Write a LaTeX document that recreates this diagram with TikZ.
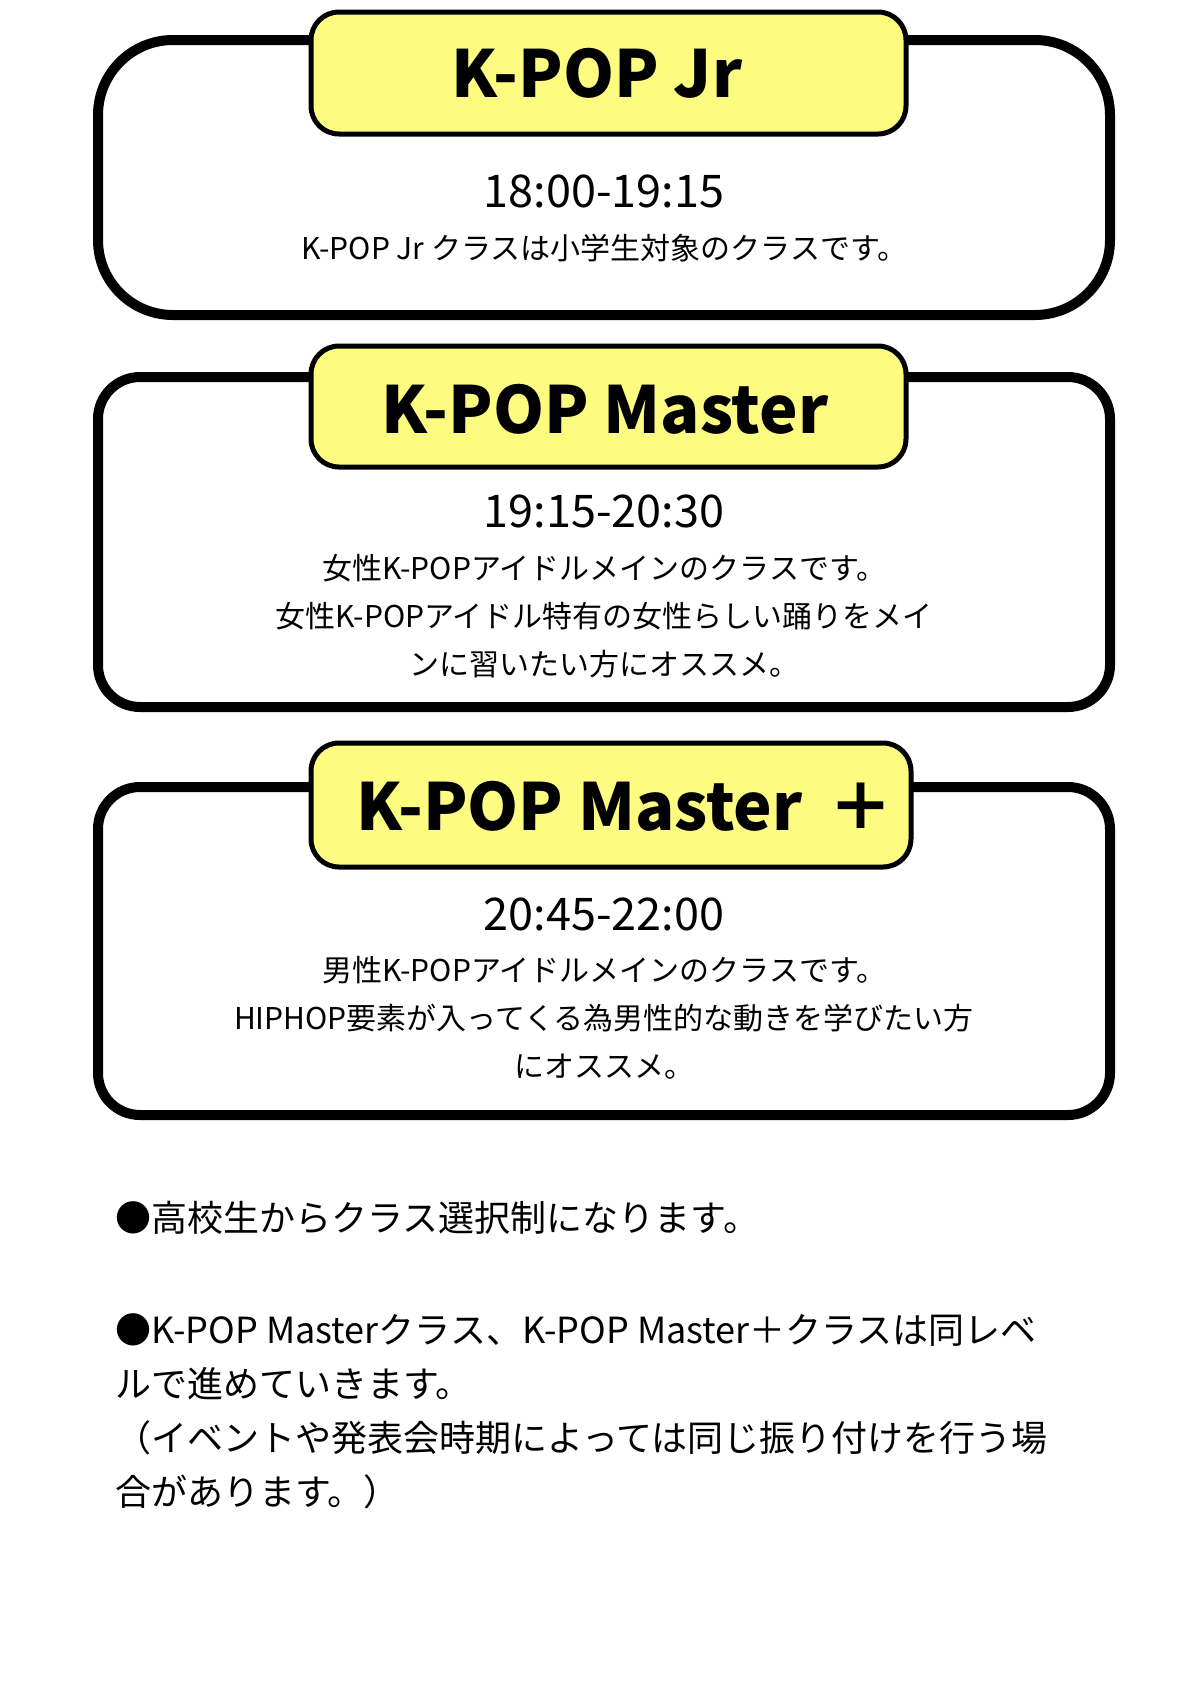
\documentclass[tikz,border=0pt]{standalone}
\usepackage{fontspec}
\setmainfont{Noto Sans CJK JP}
\definecolor{tabyellow}{RGB}{253,251,128}

\begin{document}
\begin{tikzpicture}[x=0.5pt,y=-0.5pt,
  classbox/.style={draw,line width=5pt,fill=white,minimum width=506pt},
  classtab/.style={draw,line width=2.5pt,fill=tabyellow,rounded corners=14pt},
  classtitle/.style={anchor=base,inner sep=0pt,font=\fontsize{32.5}{38}\selectfont\bfseries},
  classtime/.style={anchor=base,inner sep=0pt,font=\fontsize{22.5}{28}\selectfont},
  classinfo/.style={anchor=base,inner sep=0pt,font=\fontsize{15}{24}\selectfont},
  noteline/.style={anchor=base west,inner sep=0pt,font=\fontsize{18}{27}\selectfont}]
  \path[use as bounding box] (0,0) rectangle (1190,1683);

  % class boxes
  \node[classbox,rounded corners=37.5pt,minimum height=137.5pt] (jrbox) at (604,177.5) {};
  \node[classbox,rounded corners=21pt,minimum height=165pt] (masterbox) at (604,542) {};
  \node[classbox,rounded corners=21pt,minimum height=164pt] (plusbox) at (604,951) {};

  % tabs
  \node[classtab,minimum width=297.5pt,minimum height=61pt] (jrtab) at (608.5,73) {};
  \node[classtab,minimum width=297.5pt,minimum height=60.5pt] (mastertab) at (608.5,406.5) {};
  \node[classtab,minimum width=300pt,minimum height=62pt] (plustab) at (611,805) {};

  \node[classtitle] (jrtitle) at (597,97) {K-POP Jr};
  \node[classtitle] (mastertitle) at (605,433) {K-POP Master};
  \node[classtitle] (plustitle) at (625,830) {K-POP Master\hspace{0.4em}＋};

  \node[classtime] (jrtime) at (604,207) {18:00-19:15};
  \node[classtime] (mastertime) at (604,527) {19:15-20:30};
  \node[classtime] (plustime) at (604,930) {20:45-22:00};

  \node[classinfo] (jrinfo) at (604,259) {K-POP Jr クラスは小学生対象のクラスです。};
  \node[classinfo] (masterinfo1) at (604,579) {女性K-POPアイドルメインのクラスです。};
  \node[classinfo] (masterinfo2) at (604,627) {女性K-POPアイドル特有の女性らしい踊りをメイ};
  \node[classinfo] (masterinfo3) at (604,675) {ンに習いたい方にオススメ。};
  \node[classinfo] (plusinfo1) at (604,981) {男性K-POPアイドルメインのクラスです。};
  \node[classinfo] (plusinfo2) at (604,1029) {HIPHOP要素が入ってくる為男性的な動きを学びたい方};
  \node[classinfo] (plusinfo3) at (604,1077) {にオススメ。};

  % notes
  \node[noteline] (note1) at (115,1231) {●高校生からクラス選択制になります。};
  \node[noteline] (note2) at (115,1343) {●K-POP Masterクラス、K-POP Master＋クラスは同レベ};
  \node[noteline] (note3) at (115,1397) {ルで進めていきます。};
  \node[noteline] (note4) at (115,1451) {（イベントや発表会時期によっては同じ振り付けを行う場};
  \node[noteline] (note5) at (115,1505) {合があります。）};
\end{tikzpicture}
\end{document}
